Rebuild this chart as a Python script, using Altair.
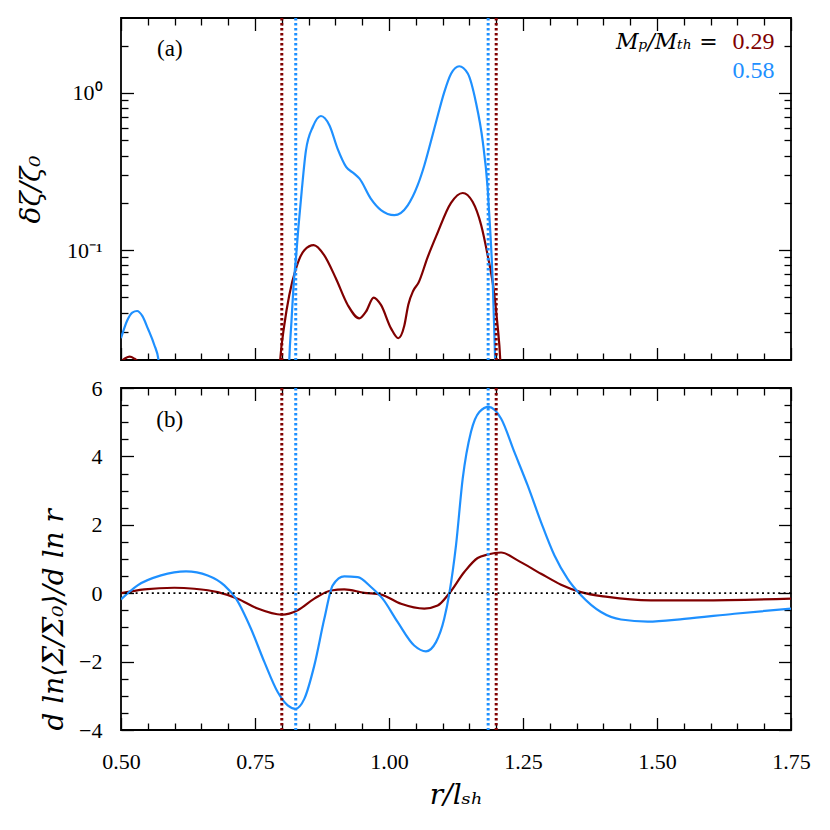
import altair as alt
import pandas as pd

RED = "#800000"
BLUE = "#1e90ff"
SERIES = ["0.29", "0.58"]
FONT = "Liberation Serif"
TFONT = "DejaVu Serif"

# ---------------- panel (a): delta zeta / zeta0 (log scale) ----------------
a_r_029 = [0.500, 0.508, 0.516, 0.524, 0.531, 0.540, 0.560, 0.780, 0.793, 0.797,
           0.8047, 0.814, 0.8265, 0.842, 0.8595, 0.879, 0.901, 0.923, 0.9446, 0.957,
           0.9714, 0.985, 1.0037, 1.0174, 1.0285, 1.036, 1.045, 1.055, 1.072, 1.089,
           1.1157, 1.1375, 1.156, 1.172, 1.184, 1.195, 1.2025, 1.2076, 1.212, 1.230, 1.750]
a_v_029 = [0.0195, 0.0205, 0.021, 0.0205, 0.0195, 0.010, 0.002, 0.002, 0.012, 0.020,
           0.0334, 0.0518, 0.0765, 0.100, 0.1076, 0.093, 0.066, 0.0448, 0.0368, 0.0406,
           0.0499, 0.0448, 0.0318, 0.0275, 0.033, 0.045, 0.055, 0.062, 0.090, 0.125,
           0.200, 0.231, 0.203, 0.144, 0.093, 0.057, 0.0334, 0.020, 0.008, 0.002, 0.002]

a_r_058 = [0.500, 0.512, 0.521, 0.530, 0.540, 0.550, 0.562, 0.570, 0.576, 0.600,
           0.800, 0.811, 0.814, 0.818, 0.822, 0.8265, 0.831, 0.837, 0.845, 0.858,
           0.873, 0.889, 0.904, 0.920, 0.935, 0.945, 0.966, 0.985, 1.010, 1.035,
           1.0535, 1.066, 1.078, 1.091, 1.103, 1.116, 1.131, 1.147, 1.162, 1.175,
           1.184, 1.189, 1.1935, 1.1965, 1.198, 1.201, 1.220, 1.750]
a_v_058 = [0.0275, 0.0359, 0.040, 0.041, 0.038, 0.0318, 0.025, 0.020, 0.010, 0.002,
           0.002, 0.008, 0.020, 0.035, 0.060, 0.090, 0.140, 0.235, 0.43, 0.61,
           0.714, 0.622, 0.443, 0.339, 0.307, 0.285, 0.213, 0.180, 0.167, 0.193,
           0.259, 0.347, 0.489, 0.72, 1.01, 1.33, 1.48, 1.33, 0.877, 0.489,
           0.250, 0.131, 0.063, 0.030, 0.020, 0.008, 0.002, 0.002]

# ---------------- panel (b): d ln<Sigma/Sigma0> / d ln r ----------------
b_r_029 = [0.500, 0.5435, 0.5995, 0.6368, 0.6804, 0.7177, 0.755, 0.8004, 0.8297, 0.8607,
           0.8918, 0.9166, 0.954, 0.985, 1.0224, 1.0659, 1.0908, 1.1126, 1.1405, 1.1654,
           1.184, 1.209, 1.240, 1.2836, 1.321, 1.358, 1.408, 1.4888, 1.582, 1.750]
b_v_029 = [0.00, 0.11, 0.16, 0.13, 0.03, -0.16, -0.45, -0.63, -0.50, -0.16,
           0.08, 0.11, 0.01, -0.04, -0.31, -0.45, -0.36, 0.00, 0.62, 1.03,
           1.13, 1.19, 0.96, 0.57, 0.25, 0.03, -0.11, -0.21, -0.21, -0.16]

b_r_058 = [0.500, 0.531, 0.5746, 0.6213, 0.6617, 0.6928, 0.7146, 0.7425, 0.7674, 0.7923,
           0.811, 0.8252, 0.842, 0.8607, 0.8793, 0.895, 0.9166, 0.9416, 0.9664, 0.988,
           1.016, 1.047, 1.069, 1.0877, 1.103, 1.1126, 1.125, 1.1375, 1.153, 1.1685,
           1.186, 1.209, 1.2338, 1.2587, 1.2836, 1.3085, 1.3333, 1.3582, 1.3955, 1.4328,
           1.4826, 1.5509, 1.6443, 1.750]
b_v_058 = [-0.18, 0.23, 0.52, 0.64, 0.52, 0.23, -0.16, -1.04, -2.01, -2.89,
           -3.28, -3.38, -3.09, -2.11, -0.75, 0.23, 0.49, 0.47, 0.18, -0.16,
           -0.84, -1.53, -1.70, -1.43, -0.75, 0.00, 1.40, 3.35, 4.72, 5.30,
           5.45, 5.11, 4.13, 3.15, 2.08, 1.11, 0.42, -0.06, -0.55, -0.77,
           -0.83, -0.75, -0.60, -0.45]

# gap edges (vertical dotted lines)
edge_r = [0.800, 1.200, 0.826, 1.185]
edge_s = ["0.29", "0.29", "0.58", "0.58"]

# axes
x_domain = [0.5, 1.75]
x_major = [0.5, 0.75, 1.0, 1.25, 1.5, 1.75]
x_minor = [0.55, 0.6, 0.65, 0.7, 0.8, 0.85, 0.9, 0.95, 1.05, 1.1, 1.15, 1.2,
           1.3, 1.35, 1.4, 1.45, 1.55, 1.6, 1.65, 1.7]
a_domain = [0.02, 3]
a_major = [0.1, 1]
a_minor = [0.03, 0.04, 0.05, 0.06, 0.07, 0.08, 0.09,
           0.2, 0.3, 0.4, 0.5, 0.6, 0.7, 0.8, 0.9, 2]
b_domain = [-4, 6]
b_major = [-4, -2, 0, 2, 4, 6]
b_minor = [-3.5, -3, -2.5, -1.5, -1, -0.5, 0.5, 1, 1.5, 2.5, 3, 3.5, 4.5, 5, 5.5]

W, H = 670, 342
MAJ, MIN = 12.5, 7


def frame(rs, vs, s):
    return pd.DataFrame({"r": rs, "v": vs, "s": s})


def tick_axis(orient, values, size, **kw):
    opts = dict(orient=orient, values=values, tickSize=size, offset=-size,
                domain=False, grid=False, labels=False, title=None,
                tickColor="black", tickWidth=1.3)
    opts.update(kw)
    return alt.Axis(**opts)


def xenc(axis):
    return alt.X("r:Q", scale=alt.Scale(domain=x_domain, nice=False, zero=False), axis=axis)


def yenc(dom, log, axis):
    if log:
        sc = alt.Scale(type="log", domain=dom, nice=False)
    else:
        sc = alt.Scale(domain=dom, nice=False, zero=False)
    return alt.Y("v:Q", scale=sc, axis=axis)


color = alt.Color("s:N", scale=alt.Scale(domain=SERIES, range=[RED, BLUE]), legend=None)

label_style = dict(labelFont=FONT, labelFontSize=22, labelColor="black",
                   labelFlush=False, labelOverlap=False, labelBound=False)
title_style = dict(titleFont=TFONT, titleFontSize=28, titleFontWeight="normal",
                   titleColor="black", titleFontStyle="italic")


def panel(df, dom, log, y_major, y_minor, y_main_axis, x_main_axis, extra):
    base = alt.Chart(df)
    lines = base.mark_line(clip=True, strokeWidth=2.2, interpolate="monotone").encode(
        x=xenc(x_main_axis), y=yenc(dom, log, y_main_axis), color=color)
    inv1 = base.mark_line(opacity=0, clip=True).encode(
        x=xenc(tick_axis("bottom", x_minor, MIN)),
        y=yenc(dom, log, tick_axis("left", y_minor, MIN)), detail="s:N")
    inv2 = base.mark_line(opacity=0, clip=True).encode(
        x=xenc(tick_axis("top", x_major, MAJ)),
        y=yenc(dom, log, tick_axis("right", y_major, MAJ)), detail="s:N")
    inv3 = base.mark_line(opacity=0, clip=True).encode(
        x=xenc(tick_axis("top", x_minor, MIN)),
        y=yenc(dom, log, tick_axis("right", y_minor, MIN)), detail="s:N")
    rules = alt.Chart(pd.DataFrame({"r": edge_r, "s": edge_s})).mark_rule(
        strokeDash=[2.6, 2.4], strokeWidth=3).encode(x=xenc(None), color=color)
    layers = [lines, inv1, inv2, inv3] + extra(dom, log) + [rules]
    return alt.layer(*layers).resolve_axis(x="independent", y="independent").properties(
        width=W, height=H)


def extra_a(dom, log):
    tag = alt.Chart(pd.DataFrame({"r": [0.591], "v": [1.91], "t": ["(a)"]})).mark_text(
        font=FONT, fontSize=23, align="center", baseline="middle", color="black").encode(
        x=xenc(None), y=yenc(dom, log, None), text="t:N")
    lab = alt.Chart(pd.DataFrame({"r": [1.6133], "v": [2.1], "t": ["Mₚ/Mₜₕ ="]})).mark_text(
        font=TFONT, fontSize=22, fontStyle="italic", align="right", baseline="middle",
        color="black").encode(x=xenc(None), y=yenc(dom, log, None), text="t:N")
    vals = alt.Chart(pd.DataFrame({"r": [1.719, 1.719], "v": [2.1, 1.39],
                                   "s": SERIES, "t": SERIES})).mark_text(
        font=FONT, fontSize=24, align="right", baseline="middle").encode(
        x=xenc(None), y=yenc(dom, log, None), text="t:N", color=color)
    return [tag, lab, vals]


def extra_b(dom, log):
    tag = alt.Chart(pd.DataFrame({"r": [0.591], "v": [5.06], "t": ["(b)"]})).mark_text(
        font=FONT, fontSize=23, align="center", baseline="middle", color="black").encode(
        x=xenc(None), y=yenc(dom, log, None), text="t:N")
    zero = alt.Chart(pd.DataFrame({"v": [0]})).mark_rule(
        strokeDash=[2, 3.4], strokeWidth=1.8, color="black").encode(y=yenc(dom, log, None))
    return [zero, tag]


df_a = pd.concat([frame(a_r_029, a_v_029, "0.29"), frame(a_r_058, a_v_058, "0.58")])
df_b = pd.concat([frame(b_r_029, b_v_029, "0.29"), frame(b_r_058, b_v_058, "0.58")])

ya_axis = tick_axis("left", a_major, MAJ, labels=True, labelPadding=19,
                    labelExpr="datum.value > 0.5 ? '10⁰' : '10⁻¹'",
                    title="δζ/ζ₀", titlePadding=21, **label_style, **title_style)
xa_axis = tick_axis("bottom", x_major, MAJ)

yb_axis = tick_axis("left", b_major, MAJ, labels=True, labelPadding=19, format="d",
                    title="d ln⟨Σ/Σ₀⟩/d ln r", titlePadding=10, titleAnchor="start",
                    **label_style, **title_style)
xb_axis = tick_axis("bottom", x_major, MAJ, labels=True, labelPadding=21, format=".2f",
                    title="r/lₛₕ", titlePadding=9, **label_style, **title_style)

top = panel(df_a, a_domain, True, a_major, a_minor, ya_axis, xa_axis, extra_a)
bottom = panel(df_b, b_domain, False, b_major, b_minor, yb_axis, xb_axis, extra_b)

chart = alt.vconcat(top, bottom, spacing=13).properties(
    padding={"left": 8, "top": 7, "right": 10, "bottom": 10},
    background="white",
).configure_view(stroke="black", strokeWidth=1.8)

chart.save("out.html", embed_options={"renderer": "svg", "actions": False})
